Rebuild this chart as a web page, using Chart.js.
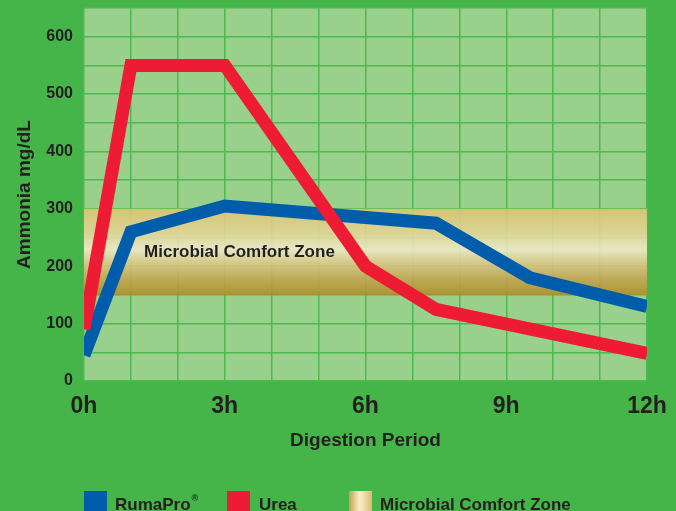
<!DOCTYPE html>
<html>
<head>
<meta charset="utf-8">
<script src="https://cdn.jsdelivr.net/npm/chart.js@4"></script>
<style>
  html, body { margin: 0; padding: 0; background: #46b549; }
  canvas { display: block; }
</style>
</head>
<body>
<canvas id="ammonia-chart" width="676" height="511"></canvas>
<script>
// Данные графика: часы переваривания и аммиак, мг/дл
const rumaHours = [0, 1, 3, 7.5, 9.5, 12];
const rumaValues = [45, 260, 305, 275, 180, 130];
const ureaHours = [0, 1, 3, 6, 7.5, 12];
const ureaValues = [90, 550, 550, 200, 125, 48];
const zoneHours = [0, 12];
const zoneRange = [150, 300];
const xTickLabels = ['0h', '3h', '6h', '9h', '12h'];
const yTickLabels = [0, 100, 200, 300, 400, 500, 600];
const seriesNames = ['RumaPro', 'Urea', 'Microbial Comfort Zone'];

const textColor = '#231f20';
const fontFamily = '"Liberation Sans", Arial, sans-serif';
const blue = '#005dab';
const red = '#ed1b34';

Chart.defaults.font.family = fontFamily;
Chart.defaults.color = textColor;

function toPoints(xs, ys) {
    return xs.map((x, i) => ({ x: x, y: ys[i] }));
}

// Вертикальный градиент для зоны комфорта
function zoneGradient(ctx, y1, y2) {
    const g = ctx.createLinearGradient(0, y1, 0, y2);
    g.addColorStop(0, 'rgba(216,197,114,0.9)');
    g.addColorStop(0.3, 'rgba(226,214,152,0.9)');
    g.addColorStop(0.47, 'rgba(238,234,200,0.9)');
    g.addColorStop(0.6, 'rgba(222,206,146,0.9)');
    g.addColorStop(0.8, 'rgba(196,168,86,0.9)');
    g.addColorStop(1, 'rgba(176,142,40,0.9)');
    return g;
}

const decorPlugin = {
    id: 'decor',
    beforeDraw(chart) {
        const { ctx, chartArea: a } = chart;
        ctx.save();
        ctx.fillStyle = '#46b549';
        ctx.fillRect(0, 0, chart.width, chart.height);
        ctx.fillStyle = '#98d08c';
        ctx.fillRect(a.left, a.top, a.right - a.left, a.bottom - a.top);
        ctx.restore();
    },
    // Подпись внутри зоны, под линиями
    afterDatasetDraw(chart, args) {
        if (args.index !== 2) return;
        const ctx = chart.ctx;
        const x = chart.scales.x.getPixelForValue(1.28);
        const y = chart.scales.y.getPixelForValue(224);
        ctx.save();
        ctx.font = 'bold 17px ' + fontFamily;
        ctx.fillStyle = textColor;
        ctx.textBaseline = 'middle';
        ctx.fillText(seriesNames[2], x, y);
        ctx.restore();
    },
    // Своя легенда внизу
    afterDraw(chart) {
        const ctx = chart.ctx;
        const top = 491, size = 23, textY = 510;
        ctx.save();
        ctx.font = 'bold 17px ' + fontFamily;
        ctx.textBaseline = 'alphabetic';

        ctx.fillStyle = blue;
        ctx.fillRect(84, top, size, 25);
        ctx.fillStyle = textColor;
        ctx.fillText(seriesNames[0], 115, textY);
        const w = ctx.measureText(seriesNames[0]).width;
        ctx.font = 'bold 9px ' + fontFamily;
        ctx.fillText('®', 115 + w + 1, textY - 9);

        ctx.font = 'bold 17px ' + fontFamily;
        ctx.fillStyle = red;
        ctx.fillRect(227, top, size, 25);
        ctx.fillStyle = textColor;
        ctx.fillText(seriesNames[1], 259, textY);

        const g = ctx.createLinearGradient(349, 0, 372, 0);
        g.addColorStop(0, '#c3a24a');
        g.addColorStop(0.45, '#f7edcb');
        g.addColorStop(0.6, '#f2e2b2');
        g.addColorStop(1, '#d6bb70');
        ctx.fillStyle = g;
        ctx.fillRect(349, top, size, 25);
        ctx.fillStyle = textColor;
        ctx.fillText(seriesNames[2], 380, textY);
        ctx.restore();
    }
};

const ctx = document.getElementById('ammonia-chart').getContext('2d');
const ammoniaChart = new Chart(ctx, {
    type: 'line',
    data: {
        datasets: [{
            label: seriesNames[1],
            data: toPoints(ureaHours, ureaValues),
            borderColor: red,
            borderWidth: 13,
            borderJoinStyle: 'miter',
            pointRadius: 0,
            fill: false,
            clip: 0
        }, {
            label: seriesNames[0],
            data: toPoints(rumaHours, rumaValues),
            borderColor: blue,
            borderWidth: 13,
            borderJoinStyle: 'miter',
            pointRadius: 0,
            fill: false,
            clip: 0
        }, {
            label: seriesNames[2],
            data: toPoints(zoneHours, [zoneRange[1], zoneRange[1]]),
            borderWidth: 0,
            borderColor: 'rgba(0,0,0,0)',
            pointRadius: 0,
            fill: { value: zoneRange[0] },
            backgroundColor: (c) => {
                const chart = c.chart;
                if (!chart.chartArea) return 'rgba(0,0,0,0)';
                const y = chart.scales.y;
                return zoneGradient(chart.ctx, y.getPixelForValue(zoneRange[1]), y.getPixelForValue(zoneRange[0]));
            },
            clip: 0
        }]
    },
    options: {
        responsive: false,
        animation: false,
        devicePixelRatio: 1,
        layout: { padding: { top: 8, right: 29, left: 0, bottom: 0 } },
        plugins: {
            legend: { display: false },
            tooltip: { enabled: false }
        },
        scales: {
            x: {
                type: 'linear',
                min: 0,
                max: 12,
                afterFit: (scale) => {
                    scale.height = 130;
                    scale.paddingLeft = 0;
                    scale.paddingRight = 0;
                },
                border: { display: false },
                grid: { color: '#4dba50', lineWidth: 1.5, drawTicks: false },
                ticks: {
                    stepSize: 1,
                    autoSkip: false,
                    maxRotation: 0,
                    padding: 12,
                    color: textColor,
                    font: { size: 23, weight: 'bold' },
                    callback: (v) => (v % 3 === 0 ? xTickLabels[v / 3] : '')
                },
                title: {
                    display: true,
                    text: 'Digestion Period',
                    color: textColor,
                    font: { size: 19, weight: 'bold' },
                    padding: { top: 0, bottom: 59 }
                }
            },
            y: {
                min: 0,
                max: 650,
                afterFit: (scale) => {
                    scale.width = 84;
                    scale.paddingTop = 0;
                    scale.paddingBottom = 0;
                },
                border: { display: false },
                grid: { color: '#4dba50', lineWidth: 1.5, drawTicks: false },
                ticks: {
                    stepSize: 50,
                    padding: 11,
                    color: textColor,
                    font: { size: 16, weight: 'bold' },
                    callback: (v) => (yTickLabels.includes(v) ? v : '')
                },
                title: {
                    display: true,
                    text: 'Ammonia mg/dL',
                    color: textColor,
                    font: { size: 19, weight: 'bold' },
                    padding: { top: 13, bottom: 0 }
                }
            }
        }
    },
    plugins: [decorPlugin]
});
</script>
</body>
</html>
